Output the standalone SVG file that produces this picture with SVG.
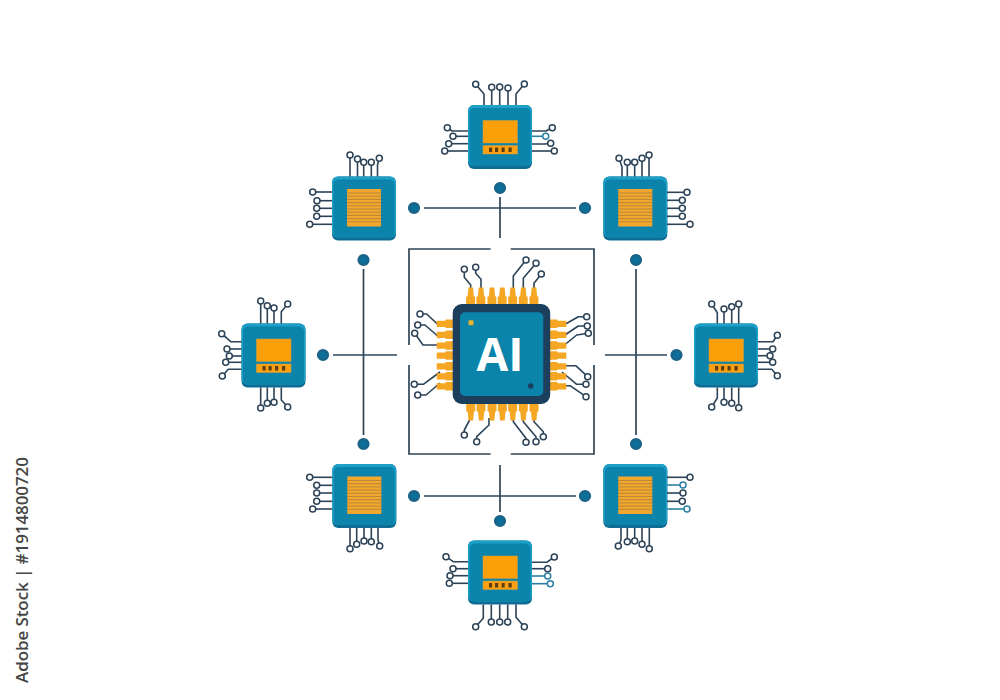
<svg xmlns="http://www.w3.org/2000/svg" width="1000" height="700" viewBox="0 0 1000 700">
<style>
.w{fill:none;stroke:#2b4257;stroke-width:1.6;stroke-linejoin:round;marker-end:url(#pad)}
.t{fill:none;stroke:#2b7fa3;stroke-width:1.6;stroke-linejoin:round;marker-end:url(#padT)}
.f{fill:none;stroke:#2f4658;stroke-width:1.7}
.c{fill:none;stroke:#2f4658;stroke-width:1.7}
.dot{fill:#0b7099;stroke:#1a6288;stroke-width:2.6}
.pin{fill:#f5a623}
.lbl{font-family:"Open Sans","Liberation Sans",sans-serif;font-size:17px;font-weight:600;fill:#454545}
.ai{font-family:"Open Sans","Liberation Sans",sans-serif;font-weight:700;font-size:46px;fill:#fff;text-anchor:middle}
</style>
<defs>
<marker id="pad" markerUnits="userSpaceOnUse" markerWidth="10" markerHeight="10" refX="5" refY="5" orient="0"><circle cx="5" cy="5" r="3" fill="#fff" stroke="#2b4257" stroke-width="1.5"/></marker>
<marker id="padT" markerUnits="userSpaceOnUse" markerWidth="10" markerHeight="10" refX="5" refY="5" orient="0"><circle cx="5" cy="5" r="3" fill="#fff" stroke="#2b7fa3" stroke-width="1.5"/></marker>
<g id="shell">
<rect x="0" y="0" width="64" height="64" rx="6" fill="#0d6c93"/>
<rect x="0" y="0" width="64" height="61" rx="6" fill="#1ca0c8"/>
<rect x="1.500" y="3" width="61" height="58" rx="5" fill="#0b83ab"/>
</g>
<g id="screenChip">
<use href="#shell"/>
<rect x="15" y="15.500" width="34.500" height="22.500" fill="#fd9f08" stroke="#c9a040" stroke-width=".5"/>
<rect x="15" y="40.500" width="34.500" height="8.500" fill="#fda112" stroke="#c9a040" stroke-width=".5"/>
<g fill="#5e3f14"><rect x="21" y="42.500" width="3.200" height="4.500"/><rect x="27" y="42.500" width="3.200" height="4.500"/><rect x="33.500" y="42.500" width="3.200" height="4.500"/><rect x="40.500" y="42.500" width="3.200" height="4.500"/></g>
</g>
<g id="stripeChip">
<use href="#shell"/>
<rect x="15" y="12.500" width="34" height="37.500" fill="#f3a72c"/>
<path d="M15 16.500h34M15 19.700h34M15 22.900h34M15 26.100h34M15 29.300h34M15 32.500h34M15 35.700h34M15 38.900h34M15 42.100h34M15 45.300h34" stroke="#b5873a" stroke-width="1" fill="none"/>
</g>
</defs>
<rect width="1000" height="700" fill="#fff"/>
<text class="lbl" transform="translate(28,683) rotate(-90)" textLength="226" lengthAdjust="spacing">Adobe Stock | #1914800720</text>

<g id="connectors">
<path class="c" d="M424 208H576M500 197V238"/>
<path class="c" d="M424 496H576M500 465V512"/>
<path class="c" d="M363.500 269V435M333 355H397"/>
<path class="c" d="M636 269V435M605 355H667"/>
<circle class="dot" cx="500" cy="188" r="4.800"/>
<circle class="dot" cx="414" cy="208" r="4.800"/>
<circle class="dot" cx="585" cy="208" r="4.800"/>
<circle class="dot" cx="500" cy="521" r="4.800"/>
<circle class="dot" cx="414" cy="496" r="4.800"/>
<circle class="dot" cx="585" cy="496" r="4.800"/>
<circle class="dot" cx="363.500" cy="260" r="4.800"/>
<circle class="dot" cx="363.500" cy="444" r="4.800"/>
<circle class="dot" cx="323" cy="355" r="4.800"/>
<circle class="dot" cx="636" cy="260" r="4.800"/>
<circle class="dot" cx="636" cy="444" r="4.800"/>
<circle class="dot" cx="676.500" cy="355" r="4.800"/>
<path class="f" d="M490.700 249H409V345M510.700 249H594V345M409 365V454H490.700M594 365V454H510.700"/>
</g>

<g id="cpu-ai">
<path class="w" d="M470.700 290V285L464.300 277.300V269.300"/>
<path class="w" d="M481 290V279.300L475.700 273.300V267.300"/>
<path class="w" d="M513.300 290V276L526 260"/>
<path class="w" d="M523.300 290V278.300L536 263.300"/>
<path class="w" d="M534 290V283.300L541.300 274"/>
<path class="w" d="M440 326.500L426.700 314H420"/>
<path class="w" d="M440 338L425 325H417.700"/>
<path class="w" d="M440 345H423L414.700 333.300"/>
<path class="w" d="M440 372L423.300 384.300H414.300"/>
<path class="w" d="M440 383L426 395H417.700"/>
<path class="w" d="M562 326L578.300 316.700H586.700"/>
<path class="w" d="M562 337L578.300 326H587.300"/>
<path class="w" d="M562 347L576.700 335L588.300 333.300"/>
<path class="w" d="M562 365.700H575.700L587.700 376.700"/>
<path class="w" d="M562 372L576.700 384.300H586"/>
<path class="w" d="M562 385.700H570L586 396.700"/>
<path class="w" d="M470.700 418L464.300 430V435"/>
<path class="w" d="M489 418V425L476.700 436.700V441.700"/>
<path class="w" d="M513.300 418V421.700L526 438.300V442.300"/>
<path class="w" d="M523.300 418V421.700L536 436.700V441.700"/>
<path class="w" d="M534 418V421.700L543.300 431.700V436.700"/>
<g class="pin">
<path id="pt" d="M468.400 287.500h4.600l.8 8.500 1.300 1v8h-9v-8l1.500-1z"/>
<use href="#pt" x="10.300"/><use href="#pt" x="21.300"/><use href="#pt" x="31.600"/><use href="#pt" x="42"/><use href="#pt" x="52.600"/><use href="#pt" x="63.300"/>
<path id="pb" d="M466.200 403h9v8l-1.300 1-.8 8.500h-4.600l-.8-8.500-1.500-1z"/>
<use href="#pb" x="10.300"/><use href="#pb" x="21.300"/><use href="#pb" x="31.600"/><use href="#pb" x="42"/><use href="#pb" x="52.600"/><use href="#pb" x="63.300"/>
<path id="pl" d="M436.700 320.800h8.300l1-1.300h7.700v8.500h-7.700l-1-1h-8.300z"/>
<use href="#pl" y="11"/><use href="#pl" y="21.700"/><use href="#pl" y="31.700"/><use href="#pl" y="42.400"/><use href="#pl" y="52.400"/><use href="#pl" y="62.400"/>
<path id="pr" d="M566.300 320.800h-8.300l-1-1.300h-8v8.500h8l1-1h8.300z"/>
<use href="#pr" y="11"/><use href="#pr" y="21.700"/><use href="#pr" y="31.700"/><use href="#pr" y="42.400"/><use href="#pr" y="52.400"/><use href="#pr" y="62.400"/>
</g>
<rect x="452.700" y="304" width="97.500" height="100" rx="9" fill="#1c3f5d"/>
<rect x="460" y="312.300" width="83.300" height="83.700" rx="5" fill="#0a84aa"/>
<rect x="468.500" y="320.300" width="5" height="5" rx=".8" fill="#e6b32e"/>
<circle cx="530.700" cy="386" r="2.700" fill="#1c3f5d"/>
<text class="ai" x="500" y="370.500">AI</text>
</g>

<g id="chip-top">
<use href="#screenChip" x="468" y="105"/>
<path class="w" d="M484 105V94L475.700 84.300"/>
<path class="w" d="M491.700 105V87.300"/>
<path class="w" d="M499.700 105V87"/>
<path class="w" d="M508 105V88"/>
<path class="w" d="M516 105V94L524.300 84"/>
<path class="w" d="M468 131H452L447.300 127.700"/>
<path class="w" d="M468 136.300H453"/>
<path class="w" d="M468 143.700H448.700"/>
<path class="w" d="M468 151H444.700"/>
<path class="w" d="M532 131H546L552.300 127.700"/>
<path class="t" d="M532 136.300H545.700"/>
<path class="w" d="M532 144H545L550.700 143.300"/>
<path class="w" d="M532 151H554.300"/>
</g>

<g id="chip-top-left">
<use href="#stripeChip" x="332" y="176.500"/>
<path class="w" d="M350 176.500V155"/>
<path class="w" d="M357.500 176.500V159"/>
<path class="w" d="M363.700 176.500V162.300"/>
<path class="w" d="M371.300 176.500V162.300"/>
<path class="w" d="M377.500 176.500V165L379.300 158.300"/>
<path class="w" d="M332 192H312.700"/>
<path class="w" d="M332 200.700H317"/>
<path class="w" d="M332 208.300H316.700"/>
<path class="w" d="M332 216.300H316.700"/>
<path class="w" d="M332 224.300H309.700"/>
</g>

<g id="chip-top-right">
<use href="#stripeChip" x="603.300" y="176.500"/>
<path class="w" d="M622 176.500V167L619 158.300"/>
<path class="w" d="M627.300 176.500V162.300"/>
<path class="w" d="M634.700 176.500V162.300"/>
<path class="w" d="M642 176.500V158.300"/>
<path class="w" d="M649 176.500V155"/>
<path class="w" d="M667 192.300H687"/>
<path class="w" d="M667 200.300H677L682.300 200.300"/>
<path class="w" d="M667 208.300H682.300"/>
<path class="w" d="M667 216.300H682.300"/>
<path class="w" d="M667 224.300H690"/>
</g>

<g id="chip-left">
<use href="#screenChip" x="241.500" y="323.500"/>
<path class="w" d="M260.700 323.500V301"/>
<path class="w" d="M267.300 323.500V305.700"/>
<path class="w" d="M274 323.500V308"/>
<path class="w" d="M281.300 323.500V311.700L287.700 304"/>
<path class="w" d="M260.700 387.500V408"/>
<path class="w" d="M267.300 387.500V403.300"/>
<path class="w" d="M274 387.500V402.300"/>
<path class="w" d="M281.300 387.500V400L287.700 407"/>
<path class="w" d="M241.500 341.700H230.700L221.700 333.700"/>
<path class="w" d="M241.500 349H227"/>
<path class="w" d="M241.500 356H229.300"/>
<path class="w" d="M241.500 362.300H225.700"/>
<path class="w" d="M241.500 369.300H228.300L222.300 376"/>
</g>

<g id="chip-right">
<use href="#screenChip" x="694" y="323.500"/>
<path class="w" d="M717.300 323.500V312.700L711.700 304"/>
<path class="w" d="M724 323.500V309"/>
<path class="w" d="M731.700 323.500V306.700"/>
<path class="w" d="M738.700 323.500V304"/>
<path class="w" d="M717.300 387.500V398L711.700 407"/>
<path class="w" d="M724 387.500V402.300"/>
<path class="w" d="M731.700 387.500V403.300"/>
<path class="w" d="M738.700 387.500V407.700"/>
<path class="w" d="M758 341.700H773L777.300 335.300"/>
<path class="w" d="M758 349H772.700"/>
<path class="w" d="M758 355.700H770"/>
<path class="w" d="M758 362.300H772.700"/>
<path class="w" d="M758 369.300H771.700L777.300 375.700"/>
</g>

<g id="chip-bottom-left">
<use href="#stripeChip" x="332.300" y="464"/>
<path class="w" d="M350 528V548.700"/>
<path class="w" d="M356.700 528V544.300"/>
<path class="w" d="M364 528V541"/>
<path class="w" d="M371.300 528V541.700"/>
<path class="w" d="M378 528V540L379.700 546"/>
<path class="w" d="M332.300 477.300H309.700"/>
<path class="w" d="M332.300 485.300H316.700"/>
<path class="w" d="M332.300 493H316.700"/>
<path class="w" d="M332.300 501.300H316.700"/>
<path class="w" d="M332.300 509H312.700"/>
</g>

<g id="chip-bottom-right">
<use href="#stripeChip" x="603.300" y="464"/>
<path class="w" d="M621 528V540L618.300 546"/>
<path class="w" d="M627.300 528V541.700"/>
<path class="w" d="M634.700 528V541"/>
<path class="w" d="M642 528V544.300"/>
<path class="w" d="M649.300 528V548.700"/>
<path class="w" d="M667 477.300H690"/>
<path class="t" d="M667 485H683"/>
<path class="w" d="M667 493H683"/>
<path class="w" d="M667 501.300H682.300"/>
<path class="t" d="M667 509H687"/>
</g>

<g id="chip-bottom">
<use href="#screenChip" x="468" y="540.500"/>
<path class="w" d="M483.300 604.500V618.300L475.700 626.700"/>
<path class="w" d="M491.300 604.500V622"/>
<path class="w" d="M499.700 604.500V622"/>
<path class="w" d="M507.700 604.500V622"/>
<path class="w" d="M516 604.500V617.300L524.300 626.700"/>
<path class="w" d="M468 561.700H453.300L446 556.700"/>
<path class="w" d="M468 568.700H453"/>
<path class="w" d="M468 575.700H450"/>
<path class="w" d="M468 583.300H449.300"/>
<path class="w" d="M532 562.300H546.700L554.300 557"/>
<path class="w" d="M532 568.700H547.700"/>
<path class="t" d="M532 576H547.700"/>
<path class="t" d="M532 583.700H550.300"/>
</g>
</svg>
